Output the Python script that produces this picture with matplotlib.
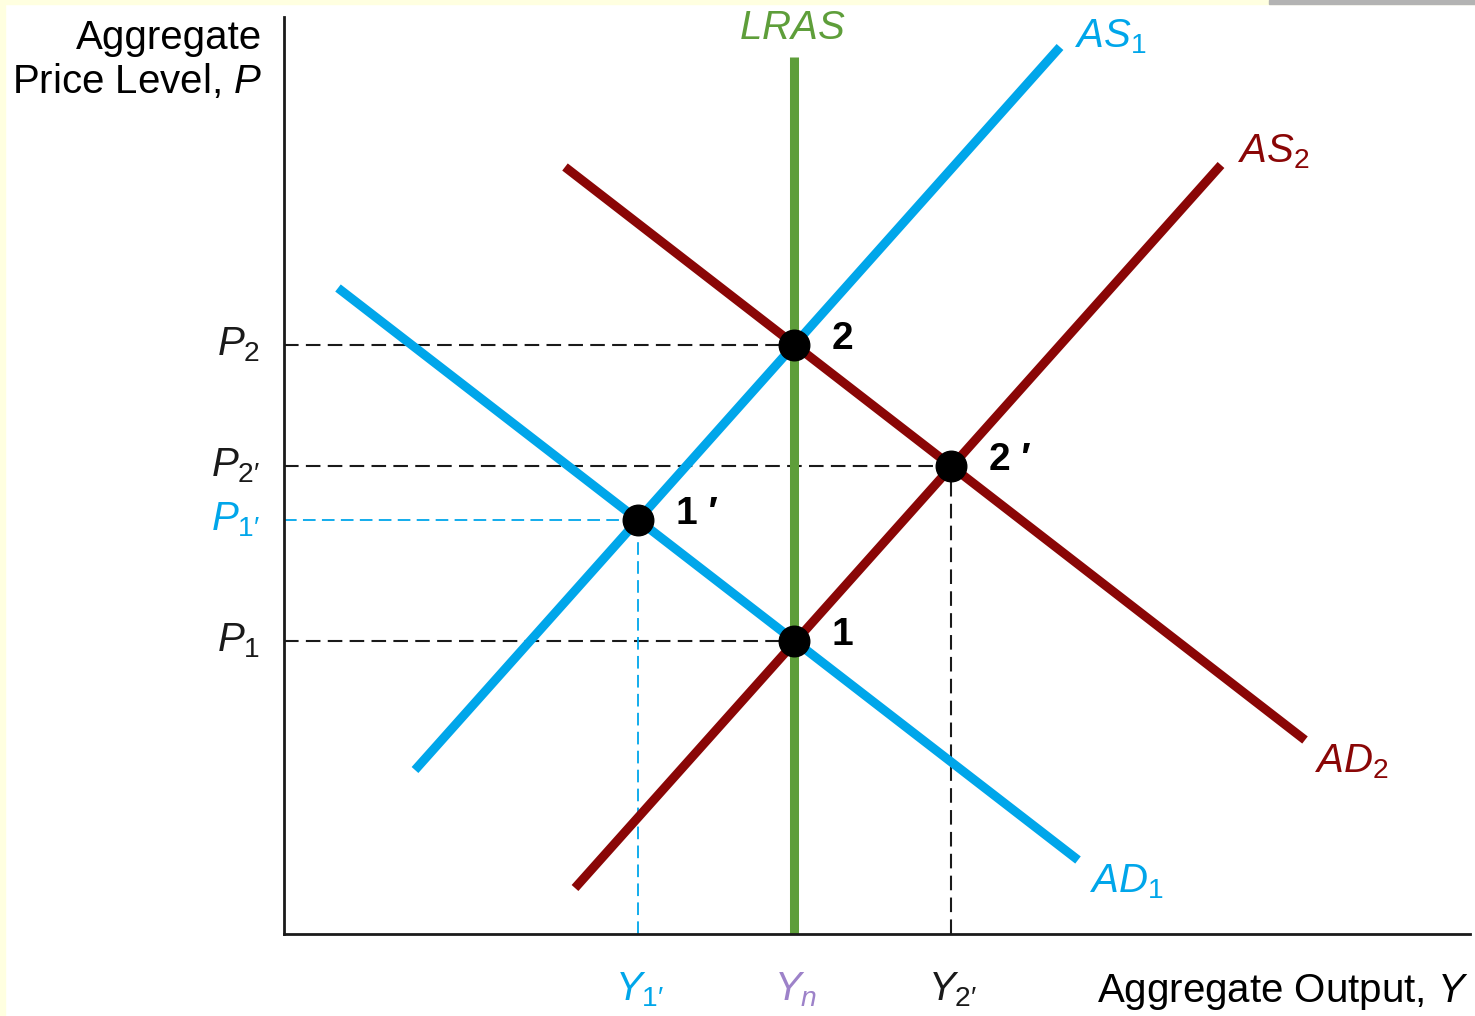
import matplotlib
matplotlib.use("Agg")
import matplotlib.pyplot as plt
from matplotlib.patches import Rectangle

plt.rcParams['font.family'] = ['Liberation Sans', 'DejaVu Sans']
plt.rcParams['mathtext.fontset'] = 'custom'
plt.rcParams['mathtext.rm'] = 'Liberation Sans'
plt.rcParams['mathtext.it'] = 'Liberation Sans:italic'
plt.rcParams['mathtext.bf'] = 'Liberation Sans:bold'

BLUE = '#00a6ea'
RED = '#8a0606'
GREEN = '#5e9e3a'
PURPLE = '#9d82c9'
INK = '#1a1a1a'

# output levels and price levels (diagram units)
Y1p, Yn, Y2p = 354, 510, 667
P1, P1p, P2p, P2 = 293, 414, 468, 589

# curve endpoints: (x0, x1), (y0, y1)
as1_x, as1_y = [131, 776], [164, 887]
as2_x, as2_y = [291, 937], [46, 769]
ad1_x, ad1_y = [54, 794], [646, 74]
ad2_x, ad2_y = [281, 1021], [767, 194]
lras_top = 877

# equilibrium points
eq_x = [Yn, Y2p, Y1p, Yn]
eq_y = [P2, P2p, P1p, P1]
eq_lab = ['2', '2 \u2032', '1 \u2032', '1']

fig = plt.figure(figsize=(14.75, 10.16), dpi=100)
W, H = 1475, 1016
# pale page border
fig.patches.append(Rectangle((0, 0), 5 / W, 1, transform=fig.transFigure,
                             color='#ffffe0', zorder=0))
fig.patches.append(Rectangle((0, 1 - 4 / H), 1, 4 / H, transform=fig.transFigure,
                             color='#ffffe0', zorder=0))
fig.patches.append(Rectangle((1269 / W, 1 - 4 / H), 1 - 1269 / W, 4 / H,
                             transform=fig.transFigure, color='#b3b3b3', zorder=1))

ax = fig.add_axes([284 / W, (H - 934) / H, (1470 - 284) / W, (934 - 17) / H])
ax.set_xlim(0, 1186)
ax.set_ylim(0, 917)
ax.patch.set_alpha(0)
for s in ['top', 'right']:
    ax.spines[s].set_visible(False)
for s in ['left', 'bottom']:
    ax.spines[s].set_linewidth(2)
    ax.spines[s].set_color(INK)
ax.set_xticks([])
ax.set_yticks([])

# dashed guide lines
dash = (0, (7, 3.5))
for p, x in [(P2, Yn), (P2p, Y2p), (P1, Yn)]:
    ax.plot([0, x], [p, p], color=INK, lw=1.5, ls=dash, zorder=1)
ax.plot([0, Y1p], [P1p, P1p], color=BLUE, lw=1.3, ls=dash, zorder=1)
ax.plot([Y1p, Y1p], [0, P1p], color=BLUE, lw=1.3, ls=dash, zorder=1)
ax.plot([Y2p, Y2p], [0, P2p], color=INK, lw=1.5, ls=dash, zorder=1)

# curves
lw = 6.5
ax.plot([Yn, Yn], [0, lras_top], color=GREEN, lw=lw, solid_capstyle='butt', zorder=2)
ax.plot(as1_x, as1_y, color=BLUE, lw=lw, solid_capstyle='butt', zorder=3)
ax.plot(ad1_x, ad1_y, color=BLUE, lw=lw, solid_capstyle='butt', zorder=3)
ax.plot(as2_x, as2_y, color=RED, lw=lw, solid_capstyle='butt', zorder=3)
ax.plot(ad2_x, ad2_y, color=RED, lw=lw, solid_capstyle='butt', zorder=3)

ax.plot(eq_x, eq_y, 'o', color='black', ms=22, zorder=5, clip_on=False)
for x, y, t in zip(eq_x, eq_y, eq_lab):
    ax.text(x + 38, y + 6, t, fontsize=28, fontweight='bold', va='center', ha='left')

fs = 29
kw = dict(fontsize=fs, clip_on=False)
ax.text(Yn - 2, 906, r'$LRAS$', color=GREEN, ha='center', va='center', **kw)
ax.text(791, 897, r'$AS_1$', color=BLUE, ha='left', va='center', **kw)
ax.text(954, 782, r'$AS_2$', color=RED, ha='left', va='center', **kw)
ax.text(1031, 172, r'$AD_2$', color=RED, ha='left', va='center', **kw)
ax.text(806, 52, r'$AD_1$', color=BLUE, ha='left', va='center', **kw)

# price level labels
for p, t, c in [(P2, r'$P_2$', INK), (P2p, r'$P_{2\prime}$', INK),
                (P1p, r'$P_{1\prime}$', BLUE), (P1, r'$P_1$', INK)]:
    ax.text(-24, p, t, color=c, ha='right', va='center', **kw)

# output labels
for y, t, c in [(Y1p, r'$Y_{1\prime}$', BLUE), (Yn, r'$Y_n$', PURPLE),
                (Y2p, r'$Y_{2\prime}$', INK)]:
    ax.text(y + 2, -56, t, color=c, ha='center', va='center', **kw)

ax.text(-22, 915, 'Aggregate\nPrice Level, $P$', ha='right', va='top',
        linespacing=1.15, **kw)
ax.text(1184, -58, 'Aggregate Output, $Y$', ha='right', va='center', **kw)

fig.savefig('out.png', dpi=100)
